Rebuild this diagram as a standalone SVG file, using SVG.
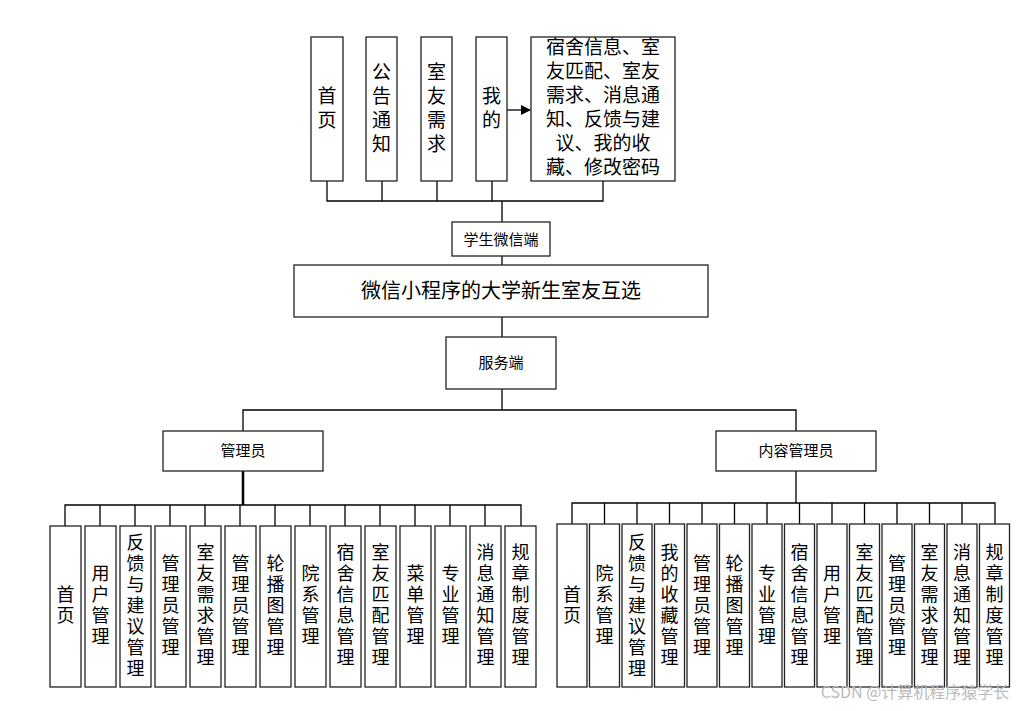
<svg xmlns="http://www.w3.org/2000/svg" width="1034" height="711" viewBox="0 0 1034 711">
<style>
rect{fill:#fff;stroke:#222;stroke-width:1.3}
text{font-family:"Noto Sans CJK SC","Liberation Sans",sans-serif;fill:#000;text-anchor:middle}
.v{font-size:18px}
.t{font-size:19px}
.c line,.c path{stroke:#000;stroke-width:1.3;fill:none}
</style>
<defs><marker id="a" markerWidth="10" markerHeight="10" refX="9" refY="5" orient="auto" markerUnits="userSpaceOnUse"><path d="M0,0L10,5L0,10z" fill="#000"/></marker></defs>
<rect width="1034" height="711" style="fill:#fff;stroke:none"/>
<g class="c">
<path d="M327,181V201H603V181M382,181V201M437,181V201M492,181V201M502,201V222M502,256V265M502,317V337M502,389V410M243,431V410H796V431"/>
<line x1="507" y1="110" x2="530" y2="110" marker-end="url(#a)"/>
<path d="M243,471V505M65,526V505H521V526M100,505V526M135,505V526M170,505V526M205,505V526M240,505V526M275,505V526M310,505V526M345,505V526M380,505V526M415,505V526M450,505V526M485,505V526" style="stroke-width:1.3"/>
<line x1="243" y1="471" x2="243" y2="505" style="stroke-width:2.5"/>
<path d="M796,471V503M572,524V503H995V524M604.5,503V524M637,503V524M669.5,503V524M702,503V524M734.5,503V524M767,503V524M799.5,503V524M832,503V524M864.5,503V524M897,503V524M929.5,503V524M962,503V524"/>
</g>
<g id="top">
<g id="n1"><rect x="311" y="37" width="32" height="144"/><text class="t" x="327"><tspan x="327" y="103">首</tspan><tspan x="327" y="127">页</tspan></text></g>
<g id="n2"><rect x="366" y="37" width="31" height="144"/><text class="t"><tspan x="381.5" y="79">公</tspan><tspan x="381.5" y="103">告</tspan><tspan x="381.5" y="127">通</tspan><tspan x="381.5" y="151">知</tspan></text></g>
<g id="n3"><rect x="421" y="37" width="31" height="144"/><text class="t"><tspan x="436.5" y="79">室</tspan><tspan x="436.5" y="103">友</tspan><tspan x="436.5" y="127">需</tspan><tspan x="436.5" y="151">求</tspan></text></g>
<g id="n4"><rect x="476" y="37" width="31" height="144"/><text class="t"><tspan x="491.5" y="103">我</tspan><tspan x="491.5" y="127">的</tspan></text></g>
<g id="n5"><rect x="531" y="37" width="144" height="144"/><text class="t"><tspan x="603" y="54">宿舍信息、室</tspan><tspan x="603" y="78">友匹配、室友</tspan><tspan x="603" y="102">需求、消息通</tspan><tspan x="603" y="126">知、反馈与建</tspan><tspan x="603" y="150">议、我的收</tspan><tspan x="603" y="174">藏、修改密码</tspan></text></g>
</g>
<g id="wx"><rect x="452" y="222" width="98" height="34"/><text x="501" y="245" style="font-size:15px">学生微信端</text></g>
<g id="main"><rect x="294" y="265" width="414" height="52"/><text x="501" y="298" style="font-size:20px">微信小程序的大学新生室友互选</text></g>
<g id="srv"><rect x="446" y="337" width="110" height="52"/><text x="501" y="368" style="font-size:15px">服务端</text></g>
<g id="adm"><rect x="163" y="431" width="160" height="40"/><text x="243" y="456" style="font-size:15px">管理员</text></g>
<g id="cadm"><rect x="716" y="431" width="160" height="40"/><text x="796" y="456" style="font-size:15px">内容管理员</text></g>
<g id="left">
<g><rect x="50" y="526" width="31" height="161"/><text class="v"><tspan x="65.5" y="601">首</tspan><tspan x="65.5" y="622">页</tspan></text></g>
<g><rect x="85" y="526" width="31" height="161"/><text class="v"><tspan x="100.5" y="580">用</tspan><tspan x="100.5" y="601">户</tspan><tspan x="100.5" y="622">管</tspan><tspan x="100.5" y="643">理</tspan></text></g>
<g><rect x="120" y="526" width="31" height="161"/><text class="v"><tspan x="135.5" y="549">反</tspan><tspan x="135.5" y="570">馈</tspan><tspan x="135.5" y="591">与</tspan><tspan x="135.5" y="612">建</tspan><tspan x="135.5" y="633">议</tspan><tspan x="135.5" y="654">管</tspan><tspan x="135.5" y="675">理</tspan></text></g>
<g><rect x="155" y="526" width="31" height="161"/><text class="v"><tspan x="170.5" y="570">管</tspan><tspan x="170.5" y="591">理</tspan><tspan x="170.5" y="612">员</tspan><tspan x="170.5" y="633">管</tspan><tspan x="170.5" y="654">理</tspan></text></g>
<g><rect x="190" y="526" width="31" height="161"/><text class="v"><tspan x="205.5" y="559">室</tspan><tspan x="205.5" y="580">友</tspan><tspan x="205.5" y="601">需</tspan><tspan x="205.5" y="622">求</tspan><tspan x="205.5" y="643">管</tspan><tspan x="205.5" y="664">理</tspan></text></g>
<g><rect x="225" y="526" width="31" height="161"/><text class="v"><tspan x="240.5" y="570">管</tspan><tspan x="240.5" y="591">理</tspan><tspan x="240.5" y="612">员</tspan><tspan x="240.5" y="633">管</tspan><tspan x="240.5" y="654">理</tspan></text></g>
<g><rect x="260" y="526" width="31" height="161"/><text class="v"><tspan x="275.5" y="570">轮</tspan><tspan x="275.5" y="591">播</tspan><tspan x="275.5" y="612">图</tspan><tspan x="275.5" y="633">管</tspan><tspan x="275.5" y="654">理</tspan></text></g>
<g><rect x="295" y="526" width="31" height="161"/><text class="v"><tspan x="310.5" y="580">院</tspan><tspan x="310.5" y="601">系</tspan><tspan x="310.5" y="622">管</tspan><tspan x="310.5" y="643">理</tspan></text></g>
<g><rect x="330" y="526" width="31" height="161"/><text class="v"><tspan x="345.5" y="559">宿</tspan><tspan x="345.5" y="580">舍</tspan><tspan x="345.5" y="601">信</tspan><tspan x="345.5" y="622">息</tspan><tspan x="345.5" y="643">管</tspan><tspan x="345.5" y="664">理</tspan></text></g>
<g><rect x="365" y="526" width="31" height="161"/><text class="v"><tspan x="380.5" y="559">室</tspan><tspan x="380.5" y="580">友</tspan><tspan x="380.5" y="601">匹</tspan><tspan x="380.5" y="622">配</tspan><tspan x="380.5" y="643">管</tspan><tspan x="380.5" y="664">理</tspan></text></g>
<g><rect x="400" y="526" width="31" height="161"/><text class="v"><tspan x="415.5" y="580">菜</tspan><tspan x="415.5" y="601">单</tspan><tspan x="415.5" y="622">管</tspan><tspan x="415.5" y="643">理</tspan></text></g>
<g><rect x="435" y="526" width="31" height="161"/><text class="v"><tspan x="450.5" y="580">专</tspan><tspan x="450.5" y="601">业</tspan><tspan x="450.5" y="622">管</tspan><tspan x="450.5" y="643">理</tspan></text></g>
<g><rect x="470" y="526" width="31" height="161"/><text class="v"><tspan x="485.5" y="559">消</tspan><tspan x="485.5" y="580">息</tspan><tspan x="485.5" y="601">通</tspan><tspan x="485.5" y="622">知</tspan><tspan x="485.5" y="643">管</tspan><tspan x="485.5" y="664">理</tspan></text></g>
<g><rect x="505" y="526" width="31" height="161"/><text class="v"><tspan x="520.5" y="559">规</tspan><tspan x="520.5" y="580">章</tspan><tspan x="520.5" y="601">制</tspan><tspan x="520.5" y="622">度</tspan><tspan x="520.5" y="643">管</tspan><tspan x="520.5" y="664">理</tspan></text></g>
</g>
<g id="right">
<g><rect x="557" y="524" width="30" height="163"/><text class="v"><tspan x="572" y="601">首</tspan><tspan x="572" y="622">页</tspan></text></g>
<g><rect x="589.5" y="524" width="30" height="163"/><text class="v"><tspan x="604.5" y="580">院</tspan><tspan x="604.5" y="601">系</tspan><tspan x="604.5" y="622">管</tspan><tspan x="604.5" y="643">理</tspan></text></g>
<g><rect x="622" y="524" width="30" height="163"/><text class="v"><tspan x="637" y="549">反</tspan><tspan x="637" y="570">馈</tspan><tspan x="637" y="591">与</tspan><tspan x="637" y="612">建</tspan><tspan x="637" y="633">议</tspan><tspan x="637" y="654">管</tspan><tspan x="637" y="675">理</tspan></text></g>
<g><rect x="654.5" y="524" width="30" height="163"/><text class="v"><tspan x="669.5" y="559">我</tspan><tspan x="669.5" y="580">的</tspan><tspan x="669.5" y="601">收</tspan><tspan x="669.5" y="622">藏</tspan><tspan x="669.5" y="643">管</tspan><tspan x="669.5" y="664">理</tspan></text></g>
<g><rect x="687" y="524" width="30" height="163"/><text class="v"><tspan x="702" y="570">管</tspan><tspan x="702" y="591">理</tspan><tspan x="702" y="612">员</tspan><tspan x="702" y="633">管</tspan><tspan x="702" y="654">理</tspan></text></g>
<g><rect x="719.5" y="524" width="30" height="163"/><text class="v"><tspan x="734.5" y="570">轮</tspan><tspan x="734.5" y="591">播</tspan><tspan x="734.5" y="612">图</tspan><tspan x="734.5" y="633">管</tspan><tspan x="734.5" y="654">理</tspan></text></g>
<g><rect x="752" y="524" width="30" height="163"/><text class="v"><tspan x="767" y="580">专</tspan><tspan x="767" y="601">业</tspan><tspan x="767" y="622">管</tspan><tspan x="767" y="643">理</tspan></text></g>
<g><rect x="784.5" y="524" width="30" height="163"/><text class="v"><tspan x="799.5" y="559">宿</tspan><tspan x="799.5" y="580">舍</tspan><tspan x="799.5" y="601">信</tspan><tspan x="799.5" y="622">息</tspan><tspan x="799.5" y="643">管</tspan><tspan x="799.5" y="664">理</tspan></text></g>
<g><rect x="817" y="524" width="30" height="163"/><text class="v"><tspan x="832" y="580">用</tspan><tspan x="832" y="601">户</tspan><tspan x="832" y="622">管</tspan><tspan x="832" y="643">理</tspan></text></g>
<g><rect x="849.5" y="524" width="30" height="163"/><text class="v"><tspan x="864.5" y="559">室</tspan><tspan x="864.5" y="580">友</tspan><tspan x="864.5" y="601">匹</tspan><tspan x="864.5" y="622">配</tspan><tspan x="864.5" y="643">管</tspan><tspan x="864.5" y="664">理</tspan></text></g>
<g><rect x="882" y="524" width="30" height="163"/><text class="v"><tspan x="897" y="570">管</tspan><tspan x="897" y="591">理</tspan><tspan x="897" y="612">员</tspan><tspan x="897" y="633">管</tspan><tspan x="897" y="654">理</tspan></text></g>
<g><rect x="914.5" y="524" width="30" height="163"/><text class="v"><tspan x="929.5" y="559">室</tspan><tspan x="929.5" y="580">友</tspan><tspan x="929.5" y="601">需</tspan><tspan x="929.5" y="622">求</tspan><tspan x="929.5" y="643">管</tspan><tspan x="929.5" y="664">理</tspan></text></g>
<g><rect x="947" y="524" width="30" height="163"/><text class="v"><tspan x="962" y="559">消</tspan><tspan x="962" y="580">息</tspan><tspan x="962" y="601">通</tspan><tspan x="962" y="622">知</tspan><tspan x="962" y="643">管</tspan><tspan x="962" y="664">理</tspan></text></g>
<g><rect x="979.5" y="524" width="30" height="163"/><text class="v"><tspan x="994.5" y="559">规</tspan><tspan x="994.5" y="580">章</tspan><tspan x="994.5" y="601">制</tspan><tspan x="994.5" y="622">度</tspan><tspan x="994.5" y="643">管</tspan><tspan x="994.5" y="664">理</tspan></text></g>
</g>
<text x="915" y="698" style="font-size:16px;fill:#bbb">CSDN @计算机程序猿学长</text>
</svg>
